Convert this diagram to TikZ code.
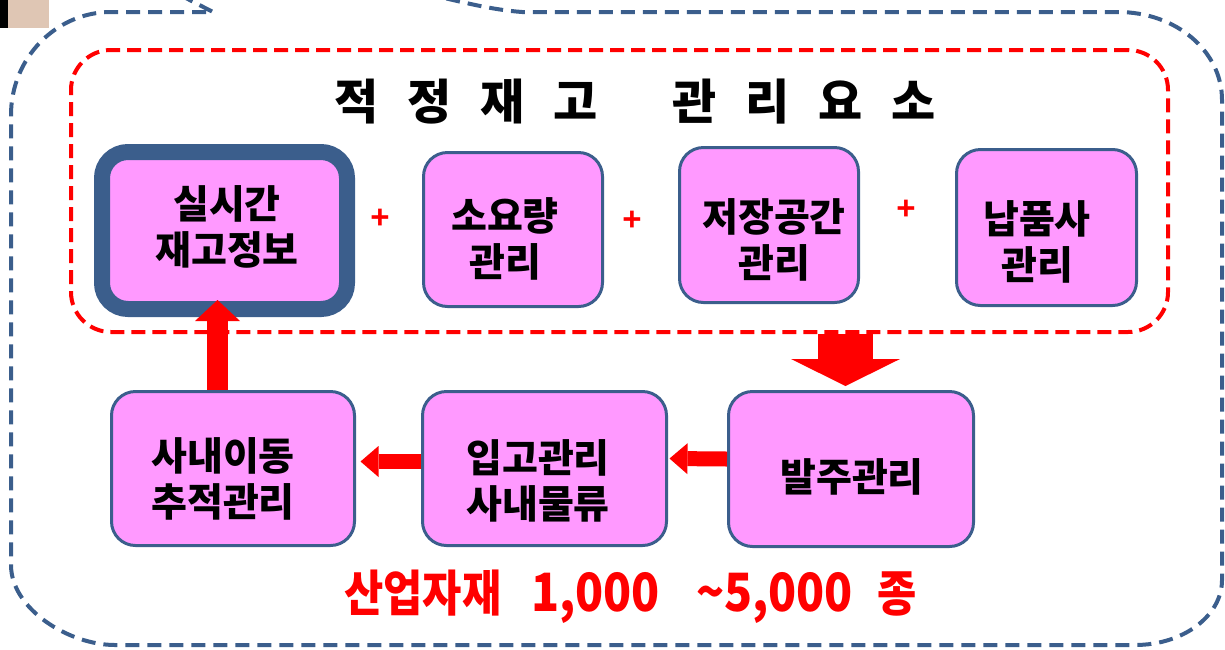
\documentclass[tikz,border=0pt]{standalone}
\usepackage{fontspec}
\newfontfamily\kr{Noto Sans CJK KR}
\newfontfamily\lib{Liberation Sans}
\usetikzlibrary{arrows.meta,calc}
\definecolor{bb}{HTML}{3B5E8C}
\definecolor{pk}{HTML}{FF99FF}
\definecolor{beige}{HTML}{DFC6B4}
\begin{document}
\begin{tikzpicture}[x=1pt,y=-1pt,
  box/.style={draw=bb, line width=3pt, fill=pk, rounded corners=24pt, inner sep=0pt},
  boxtxt/.style={font=\kr\bfseries\fontsize{39}{46}\selectfont, align=center, inner sep=0pt},
  plus/.style={font=\lib\bfseries\fontsize{33}{33}\selectfont, text=red, inner sep=0pt},
  bigdown/.style={red, line width=55pt, -{Triangle[width=109pt,length=27pt,line width=0pt]}},
  smallleft/.style={red, line width=15pt, -{Triangle[width=31pt,length=18pt,line width=0pt]}},
  bigup/.style={red, line width=21pt, -{Triangle[width=45pt,length=21pt,line width=0pt]}}
]
\useasboundingbox (0,0) rectangle (1225,649);
% corner marks
\fill[black] (0,0) rectangle (8,28);
\fill[beige] (8,0) rectangle (49,28);
% callout border
\draw[bb, line width=4pt, dash pattern=on 14pt off 8pt]
 (180,-5) -- (213,12) -- (111,12) .. controls (56,12) and (11,58) .. (11,115)
 -- (11,565) .. controls (11,609) and (69,645) .. (115,645)
 -- (1135,645) .. controls (1183,645) and (1222,616) .. (1222,580)
 -- (1222,100) .. controls (1222,51) and (1176,12) .. (1118,12)
 -- (522,12) .. controls (495,10) and (470,4) .. (440,-3);
% red frame
\node[draw=red, line width=4pt, dash pattern=on 14pt off 7pt, rounded corners=40pt,
  minimum width=1097pt, minimum height=282pt, inner sep=0pt] (frame) at (619.5,191) {};
\node[font=\kr\bfseries\fontsize{48}{48}\selectfont, inner sep=0pt] (title) at (635.5,102)
 {\makebox[73pt]{적}\makebox[73pt]{정}\makebox[73pt]{재}\makebox[73pt]{고}\hspace{46pt}\makebox[73pt]{관}\makebox[73pt]{리}\makebox[73pt]{요}\makebox[73pt]{소}};
% boxes
\node[box, line width=16pt, rounded corners=26pt, minimum width=245pt, minimum height=157pt] (b1) at (224.5,230.5) {};
\node[box, minimum width=179pt, minimum height=154pt] (b2) at (513,229.5) {};
\node[box, minimum width=179pt, minimum height=155pt] (b3) at (769,225) {};
\node[box, minimum width=180pt, minimum height=156pt] (b4) at (1046.5,227.5) {};
\node[box, minimum width=243pt, minimum height=154pt] (b5) at (233,468.5) {};
\node[box, minimum width=244pt, minimum height=154pt] (b6) at (544.5,468.5) {};
\node[box, minimum width=245pt, minimum height=155pt] (b7) at (851,469) {};
% texts
\node[boxtxt] (t1) at ($(b1.center)+(2.5,-4)$) {실시간\\재고정보};
\node[boxtxt] (t2) at ($(b2.center)+(-8,9.5)$) {소요량\\관리};
\node[boxtxt] (t3) at ($(b3.center)+(5,15)$) {저장공간\\관리};
\node[boxtxt] (t4) at ($(b4.center)+(-9.5,14)$) {납품사\\관리};
\node[boxtxt] (t5) at ($(b5.center)+(-10,10)$) {사내이동\\추적관리};
\node[boxtxt] (t6) at ($(b6.center)+(-6.5,12.5)$) {입고관리\\사내물류};
\node[boxtxt] (t7) at ($(b7.center)+(1,8)$) {발주관리};
% plus signs
\node[plus] (p1) at (380,219) {+};
\node[plus] (p2) at (632,221) {+};
\node[plus] (p3) at (906,210) {+};
% arrows
\draw[bigdown] ($(frame.south -| b7.north)+(-5.5,0)$) -- ($(b7.north)+(-5.5,-4)$);
\draw[smallleft] ($(b7.west)+(0,-10)$) -- ($(b6.east)+(1.5,-10)$);
\draw[smallleft] ($(b6.west)+(0,-7)$) -- ($(b5.east)+(4.5,-7)$);
\draw[bigup] ($(b5.north)+(-15.5,0)$) -- ($(b1.south)+(-7,-17)$);
% bottom text
\node[font=\kr\bfseries\fontsize{44}{44}\selectfont, text=red, inner sep=0pt, anchor=west] (total) at (344,597)
 {\scalebox{0.97}[1.12]{산업자재}\hspace{30pt}\scalebox{1.05}[1.2]{1,000}\hspace{36pt}\scalebox{1.05}[1.2]{\textasciitilde5,000}\hspace{25pt}\scalebox{0.97}[1.12]{종}};
\end{tikzpicture}
\end{document}
